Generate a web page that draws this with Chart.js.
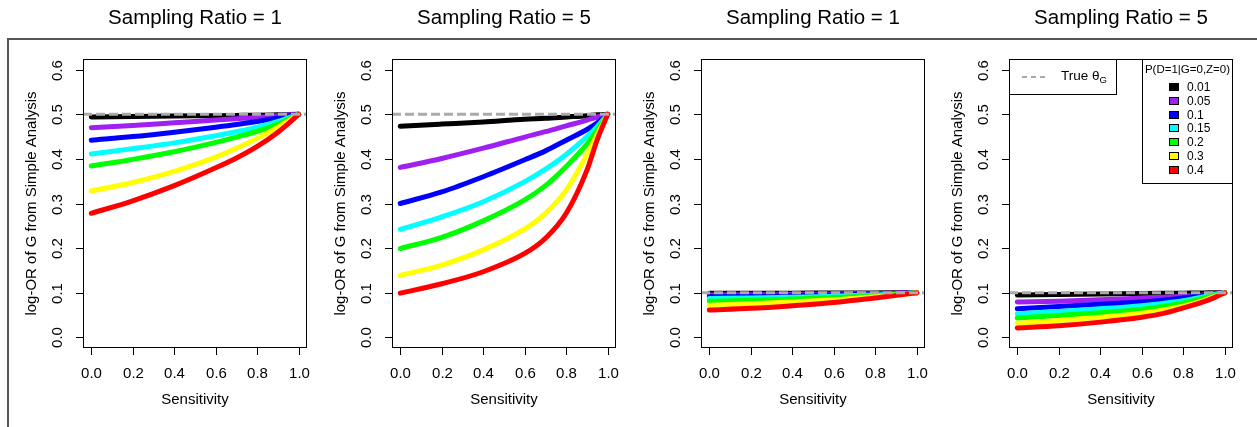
<!DOCTYPE html>
<html lang="en">

<script src="https://cdn.jsdelivr.net/npm/chart.js"></script>

<head>
  <meta charset="UTF-8">
  <title>Simple analysis log-OR</title>
</head>

<style>
  body {
    margin: 0;
    background: #ffffff;
    width: 1257px;
    height: 427px;
    overflow: hidden;
    position: relative;
  }
  .frame {
    position: absolute;
    left: 7px;
    top: 38px;
    width: 1300px;
    height: 500px;
    border-left: 2px solid #555555;
    border-top: 2px solid #555555;
  }
  .panel {
    position: absolute;
    top: 0;
    width: 314px;
    height: 427px;
  }
</style>

<body>
  <div class="frame"></div>
  <div class="panel" style="left:0px"><canvas id="c0" width="314" height="427"></canvas></div>
  <div class="panel" style="left:309px"><canvas id="c1" width="314" height="427"></canvas></div>
  <div class="panel" style="left:618px"><canvas id="c2" width="314" height="427"></canvas></div>
  <div class="panel" style="left:926px"><canvas id="c3" width="314" height="427"></canvas></div>
</body>

<script>
  const sensitivity = [0, 0.2, 0.4, 0.6, 0.7, 0.8, 0.9, 0.95, 1.0]

  const probLabels = ['0.01', '0.05', '0.1', '0.15', '0.2', '0.3', '0.4']
  const probColors = ['#000000', '#A020F0', '#0000FF', '#00FFFF', '#00FF00', '#FFFF00', '#FF0000']

  const titles = ['Sampling Ratio = 1', 'Sampling Ratio = 5', 'Sampling Ratio = 1', 'Sampling Ratio = 5']
  const trueTheta = [0.5, 0.5, 0.1, 0.1]

  const xTicks = [0, 0.2, 0.4, 0.6, 0.8, 1.0]
  const yTicks = [0, 0.1, 0.2, 0.3, 0.4, 0.5, 0.6]

  // one row per P(D=1|G=0,Z=0) level, black .. red
  const panel1 = [
    [0.494, 0.495, 0.496, 0.497, 0.4975, 0.498, 0.499, 0.4995, 0.5],
    [0.470, 0.475, 0.481, 0.487, 0.490, 0.493, 0.497, 0.499, 0.5],
    [0.442, 0.450, 0.460, 0.471, 0.477, 0.484, 0.492, 0.496, 0.5],
    [0.411, 0.423, 0.436, 0.452, 0.461, 0.471, 0.484, 0.492, 0.5],
    [0.384, 0.399, 0.416, 0.437, 0.449, 0.462, 0.478, 0.489, 0.5],
    [0.328, 0.347, 0.372, 0.404, 0.424, 0.446, 0.471, 0.485, 0.5],
    [0.278, 0.306, 0.340, 0.380, 0.402, 0.428, 0.460, 0.479, 0.5]
  ]
  const panel2 = [
    [0.473, 0.478, 0.483, 0.489, 0.491, 0.494, 0.497, 0.499, 0.5],
    [0.381, 0.401, 0.424, 0.449, 0.461, 0.474, 0.487, 0.494, 0.5],
    [0.300, 0.326, 0.360, 0.398, 0.418, 0.442, 0.466, 0.481, 0.5],
    [0.242, 0.270, 0.304, 0.349, 0.377, 0.410, 0.450, 0.473, 0.5],
    [0.199, 0.224, 0.261, 0.308, 0.340, 0.383, 0.433, 0.465, 0.5],
    [0.139, 0.162, 0.196, 0.243, 0.278, 0.330, 0.410, 0.455, 0.5],
    [0.099, 0.120, 0.147, 0.188, 0.222, 0.278, 0.375, 0.444, 0.5]
  ]
  const panel3 = [
    [0.099, 0.099, 0.099, 0.0995, 0.0995, 0.0995, 0.1, 0.1, 0.1],
    [0.095, 0.0955, 0.096, 0.097, 0.0975, 0.098, 0.099, 0.0995, 0.1],
    [0.091, 0.092, 0.093, 0.095, 0.096, 0.097, 0.098, 0.099, 0.1],
    [0.087, 0.088, 0.090, 0.092, 0.0935, 0.095, 0.097, 0.098, 0.1],
    [0.081, 0.083, 0.086, 0.089, 0.091, 0.093, 0.096, 0.098, 0.1],
    [0.072, 0.075, 0.079, 0.084, 0.087, 0.091, 0.095, 0.097, 0.1],
    [0.061, 0.065, 0.071, 0.078, 0.083, 0.088, 0.094, 0.097, 0.1]
  ]
  const panel4 = [
    [0.095, 0.096, 0.097, 0.098, 0.0985, 0.099, 0.0995, 0.1, 0.1],
    [0.079, 0.081, 0.084, 0.088, 0.090, 0.092, 0.095, 0.098, 0.1],
    [0.064, 0.069, 0.074, 0.079, 0.083, 0.088, 0.094, 0.097, 0.1],
    [0.0525, 0.058, 0.064, 0.071, 0.076, 0.082, 0.091, 0.096, 0.1],
    [0.043, 0.049, 0.055, 0.063, 0.069, 0.077, 0.088, 0.094, 0.1],
    [0.0315, 0.0375, 0.045, 0.054, 0.061, 0.070, 0.083, 0.091, 0.1],
    [0.021, 0.026, 0.034, 0.045, 0.053, 0.066, 0.080, 0.089, 0.1]
  ]
  const panels = [panel1, panel2, panel3, panel4]

  const FONT = '"Liberation Sans", Arial, Helvetica, sans-serif'
  const X_MIN = -0.04, X_MAX = 1.04
  const Y_MIN = -0.024, Y_MAX = 0.624

  // R style box, ticks, labels and title
  const rAxes = {
    id: 'rAxes',
    afterDraw(chart, args, opts) {
      const ctx = chart.ctx
      const a = chart.chartArea
      const xs = chart.scales.x
      const ys = chart.scales.y
      ctx.save()
      ctx.strokeStyle = '#000'
      ctx.fillStyle = '#000'
      ctx.lineWidth = 1
      ctx.strokeRect(a.left + 0.5, a.top + 0.5, a.right - a.left - 1, a.bottom - a.top - 1)

      ctx.font = '15px ' + FONT
      ctx.textAlign = 'center'
      ctx.textBaseline = 'middle'
      ctx.beginPath()
      for (let v of xTicks) {
        let px = Math.round(xs.getPixelForValue(v)) + 0.5
        ctx.moveTo(px, a.bottom)
        ctx.lineTo(px, a.bottom + 7)
        ctx.fillText(v.toFixed(1), px, a.bottom + 26)
      }
      for (let v of yTicks) {
        let py = Math.round(ys.getPixelForValue(v)) + 0.5
        ctx.moveTo(a.left, py)
        ctx.lineTo(a.left - 7, py)
        ctx.save()
        ctx.translate(a.left - 25, py)
        ctx.rotate(-Math.PI / 2)
        ctx.fillText(v.toFixed(1), 0, 0)
        ctx.restore()
      }
      ctx.stroke()

      let cx = (a.left + a.right) / 2
      let cy = (a.top + a.bottom) / 2
      ctx.fillText('Sensitivity', cx, a.bottom + 52)
      ctx.save()
      ctx.translate(a.left - 51, cy)
      ctx.rotate(-Math.PI / 2)
      ctx.fillText('log-OR of G from Simple Analysis', 0, 0)
      ctx.restore()

      ctx.font = '20.5px ' + FONT
      ctx.fillText(opts.title, cx, 18)

      if (opts.legend) {
        // left box: true value line
        ctx.lineWidth = 1
        ctx.strokeRect(a.left + 0.5, a.top + 0.5, 107, 35)
        ctx.strokeStyle = '#AAAAAA'
        ctx.lineWidth = 2
        ctx.setLineDash([5, 4])
        ctx.beginPath()
        ctx.moveTo(a.left + 13, a.top + 18)
        ctx.lineTo(a.left + 36, a.top + 18)
        ctx.stroke()
        ctx.setLineDash([])
        ctx.textAlign = 'left'
        ctx.font = '13.5px ' + FONT
        ctx.fillText('True θ', a.left + 52, a.top + 17)
        let w = ctx.measureText('True θ').width
        ctx.font = '9.5px ' + FONT
        ctx.fillText('G', a.left + 52 + w, a.top + 21)

        // right box: P(D=1|G=0,Z=0) levels
        ctx.strokeStyle = '#000'
        ctx.lineWidth = 1
        let bl = a.right - 91
        ctx.strokeRect(bl + 0.5, a.top + 0.5, 90, 124)
        ctx.textAlign = 'center'
        ctx.font = '11.5px ' + FONT
        ctx.fillText('P(D=1|G=0,Z=0)', bl + 45.5, a.top + 11)
        ctx.font = '12px ' + FONT
        for (let i = 0; i < probLabels.length; i++) {
          let ry = Math.round(a.top + 28 + i * 13.8)
          ctx.fillStyle = probColors[i]
          ctx.fillRect(bl + 27, ry - 3.5, 9, 7)
          ctx.strokeStyle = '#000'
          ctx.strokeRect(bl + 27.5, ry - 3.5, 9, 7)
          ctx.fillStyle = '#000'
          ctx.textAlign = 'left'
          ctx.fillText(probLabels[i], bl + 45, ry + 0.5)
        }
      }
      ctx.restore()
    }
  }

  for (let p = 0; p < 4; p++) {
    let datasets = []
    // dashed true value line, drawn on top
    datasets.push({
      data: [{ x: X_MIN, y: trueTheta[p] }, { x: X_MAX, y: trueTheta[p] }],
      borderColor: '#AAAAAA',
      borderWidth: 3,
      borderDash: [9, 4],
      pointRadius: 0,
      showLine: true,
      order: 0
    })
    for (let i = 0; i < probLabels.length; i++) {
      datasets.push({
        label: probLabels[i],
        data: sensitivity.map((s, k) => ({ x: s, y: panels[p][i][k] })),
        borderColor: probColors[i],
        borderWidth: 5,
        pointRadius: 0,
        showLine: true,
        cubicInterpolationMode: 'monotone',
        borderCapStyle: 'round',
        order: probLabels.length - i
      })
    }

    new Chart(document.getElementById('c' + p), {
      type: 'scatter',
      data: { datasets: datasets },
      options: {
        responsive: false,
        animation: false,
        events: [],
        layout: { padding: { left: 83, top: 59, right: 7, bottom: 79 } },
        scales: {
          x: { type: 'linear', min: X_MIN, max: X_MAX, display: false },
          y: { type: 'linear', min: Y_MIN, max: Y_MAX, display: false }
        },
        plugins: {
          legend: { display: false },
          tooltip: { enabled: false },
          rAxes: { title: titles[p], legend: p == 3 }
        }
      },
      plugins: [rAxes]
    })
  }
</script>

</html>
